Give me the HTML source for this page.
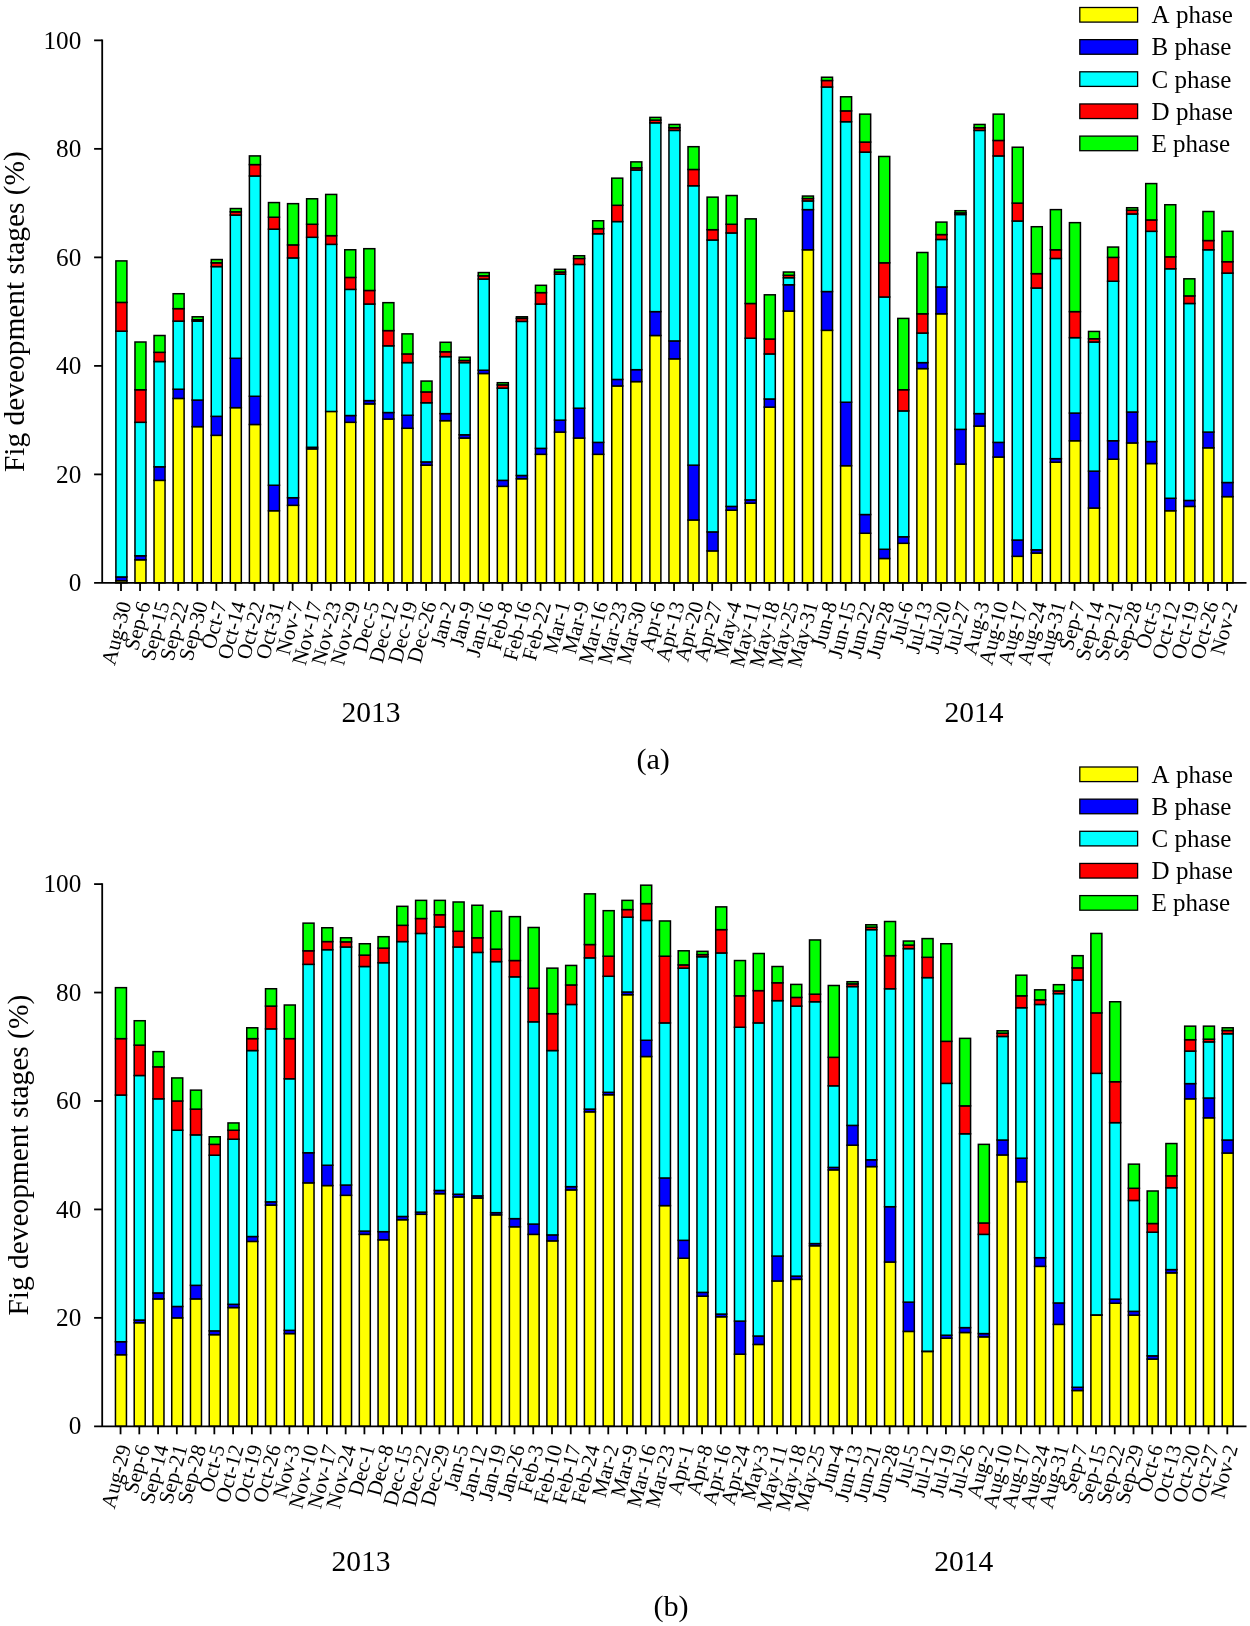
<!DOCTYPE html>
<html><head><meta charset="utf-8"><title>Fig development stages</title>
<style>
html,body{margin:0;padding:0;background:#fff}
svg{display:block;will-change:transform;transform:translateZ(0)}
text{font-family:"Liberation Serif",serif;fill:#000;font-kerning:none}
</style></head><body>
<svg width="1250" height="1626" viewBox="0 0 1250 1626">
<rect width="1250" height="1626" fill="#fff"/>
<g stroke="#000" stroke-width="1.5">
<rect x="115.90" y="580.73" width="11.0" height="2.17" fill="#ffff00"/>
<rect x="115.90" y="576.93" width="11.0" height="3.80" fill="#0000ff"/>
<rect x="115.90" y="331.16" width="11.0" height="245.78" fill="#00ffff"/>
<rect x="115.90" y="302.40" width="11.0" height="28.76" fill="#ff0000"/>
<rect x="115.90" y="260.90" width="11.0" height="41.51" fill="#00ff00"/>
<rect x="134.97" y="559.79" width="11.0" height="23.11" fill="#ffff00"/>
<rect x="134.97" y="555.77" width="11.0" height="4.01" fill="#0000ff"/>
<rect x="134.97" y="422.31" width="11.0" height="133.47" fill="#00ffff"/>
<rect x="134.97" y="389.75" width="11.0" height="32.55" fill="#ff0000"/>
<rect x="134.97" y="342.01" width="11.0" height="47.74" fill="#00ff00"/>
<rect x="154.04" y="480.36" width="11.0" height="102.54" fill="#ffff00"/>
<rect x="154.04" y="466.79" width="11.0" height="13.56" fill="#0000ff"/>
<rect x="154.04" y="361.54" width="11.0" height="105.25" fill="#00ffff"/>
<rect x="154.04" y="352.32" width="11.0" height="9.22" fill="#ff0000"/>
<rect x="154.04" y="335.50" width="11.0" height="16.82" fill="#00ff00"/>
<rect x="173.11" y="398.43" width="11.0" height="184.47" fill="#ffff00"/>
<rect x="173.11" y="389.21" width="11.0" height="9.22" fill="#0000ff"/>
<rect x="173.11" y="321.12" width="11.0" height="68.09" fill="#00ffff"/>
<rect x="173.11" y="308.64" width="11.0" height="12.48" fill="#ff0000"/>
<rect x="173.11" y="293.72" width="11.0" height="14.92" fill="#00ff00"/>
<rect x="192.18" y="426.65" width="11.0" height="156.25" fill="#ffff00"/>
<rect x="192.18" y="400.06" width="11.0" height="26.58" fill="#0000ff"/>
<rect x="192.18" y="321.12" width="11.0" height="78.94" fill="#00ffff"/>
<rect x="192.18" y="319.76" width="11.0" height="1.36" fill="#ff0000"/>
<rect x="192.18" y="316.78" width="11.0" height="2.98" fill="#00ff00"/>
<rect x="211.25" y="435.33" width="11.0" height="147.57" fill="#ffff00"/>
<rect x="211.25" y="416.34" width="11.0" height="18.99" fill="#0000ff"/>
<rect x="211.25" y="266.59" width="11.0" height="149.74" fill="#00ffff"/>
<rect x="211.25" y="262.80" width="11.0" height="3.80" fill="#ff0000"/>
<rect x="211.25" y="259.54" width="11.0" height="3.26" fill="#00ff00"/>
<rect x="230.32" y="407.66" width="11.0" height="175.24" fill="#ffff00"/>
<rect x="230.32" y="358.28" width="11.0" height="49.37" fill="#0000ff"/>
<rect x="230.32" y="215.05" width="11.0" height="143.23" fill="#00ffff"/>
<rect x="230.32" y="211.80" width="11.0" height="3.26" fill="#ff0000"/>
<rect x="230.32" y="208.54" width="11.0" height="3.26" fill="#00ff00"/>
<rect x="249.39" y="424.48" width="11.0" height="158.42" fill="#ffff00"/>
<rect x="249.39" y="396.26" width="11.0" height="28.21" fill="#0000ff"/>
<rect x="249.39" y="175.99" width="11.0" height="220.28" fill="#00ffff"/>
<rect x="249.39" y="164.59" width="11.0" height="11.39" fill="#ff0000"/>
<rect x="249.39" y="155.91" width="11.0" height="8.68" fill="#00ff00"/>
<rect x="268.47" y="510.74" width="11.0" height="72.16" fill="#ffff00"/>
<rect x="268.47" y="485.24" width="11.0" height="25.50" fill="#0000ff"/>
<rect x="268.47" y="229.16" width="11.0" height="256.08" fill="#00ffff"/>
<rect x="268.47" y="217.22" width="11.0" height="11.94" fill="#ff0000"/>
<rect x="268.47" y="202.57" width="11.0" height="14.65" fill="#00ff00"/>
<rect x="287.54" y="505.32" width="11.0" height="77.58" fill="#ffff00"/>
<rect x="287.54" y="497.72" width="11.0" height="7.60" fill="#0000ff"/>
<rect x="287.54" y="257.91" width="11.0" height="239.81" fill="#00ffff"/>
<rect x="287.54" y="244.89" width="11.0" height="13.02" fill="#ff0000"/>
<rect x="287.54" y="203.66" width="11.0" height="41.23" fill="#00ff00"/>
<rect x="306.61" y="448.89" width="11.0" height="134.01" fill="#ffff00"/>
<rect x="306.61" y="447.26" width="11.0" height="1.63" fill="#0000ff"/>
<rect x="306.61" y="237.30" width="11.0" height="209.97" fill="#00ffff"/>
<rect x="306.61" y="224.27" width="11.0" height="13.02" fill="#ff0000"/>
<rect x="306.61" y="198.77" width="11.0" height="25.50" fill="#00ff00"/>
<rect x="325.68" y="411.45" width="11.0" height="171.45" fill="#ffff00"/>
<rect x="325.68" y="244.35" width="11.0" height="167.11" fill="#00ffff"/>
<rect x="325.68" y="235.67" width="11.0" height="8.68" fill="#ff0000"/>
<rect x="325.68" y="194.43" width="11.0" height="41.23" fill="#00ff00"/>
<rect x="344.75" y="422.31" width="11.0" height="160.59" fill="#ffff00"/>
<rect x="344.75" y="415.52" width="11.0" height="6.78" fill="#0000ff"/>
<rect x="344.75" y="289.38" width="11.0" height="126.14" fill="#00ffff"/>
<rect x="344.75" y="277.44" width="11.0" height="11.94" fill="#ff0000"/>
<rect x="344.75" y="249.77" width="11.0" height="27.67" fill="#00ff00"/>
<rect x="363.82" y="403.86" width="11.0" height="179.04" fill="#ffff00"/>
<rect x="363.82" y="400.60" width="11.0" height="3.26" fill="#0000ff"/>
<rect x="363.82" y="304.03" width="11.0" height="96.57" fill="#00ffff"/>
<rect x="363.82" y="290.47" width="11.0" height="13.56" fill="#ff0000"/>
<rect x="363.82" y="248.69" width="11.0" height="41.78" fill="#00ff00"/>
<rect x="382.89" y="419.05" width="11.0" height="163.85" fill="#ffff00"/>
<rect x="382.89" y="412.54" width="11.0" height="6.51" fill="#0000ff"/>
<rect x="382.89" y="345.81" width="11.0" height="66.73" fill="#00ffff"/>
<rect x="382.89" y="330.61" width="11.0" height="15.19" fill="#ff0000"/>
<rect x="382.89" y="302.67" width="11.0" height="27.94" fill="#00ff00"/>
<rect x="401.96" y="428.27" width="11.0" height="154.63" fill="#ffff00"/>
<rect x="401.96" y="415.25" width="11.0" height="13.02" fill="#0000ff"/>
<rect x="401.96" y="362.62" width="11.0" height="52.63" fill="#00ffff"/>
<rect x="401.96" y="353.94" width="11.0" height="8.68" fill="#ff0000"/>
<rect x="401.96" y="333.87" width="11.0" height="20.07" fill="#00ff00"/>
<rect x="421.03" y="465.17" width="11.0" height="117.73" fill="#ffff00"/>
<rect x="421.03" y="461.91" width="11.0" height="3.26" fill="#0000ff"/>
<rect x="421.03" y="402.77" width="11.0" height="59.14" fill="#00ffff"/>
<rect x="421.03" y="391.92" width="11.0" height="10.85" fill="#ff0000"/>
<rect x="421.03" y="381.07" width="11.0" height="10.85" fill="#00ff00"/>
<rect x="440.10" y="420.68" width="11.0" height="162.22" fill="#ffff00"/>
<rect x="440.10" y="413.62" width="11.0" height="7.05" fill="#0000ff"/>
<rect x="440.10" y="356.66" width="11.0" height="56.97" fill="#00ffff"/>
<rect x="440.10" y="351.77" width="11.0" height="4.88" fill="#ff0000"/>
<rect x="440.10" y="342.28" width="11.0" height="9.49" fill="#00ff00"/>
<rect x="459.17" y="438.04" width="11.0" height="144.86" fill="#ffff00"/>
<rect x="459.17" y="434.78" width="11.0" height="3.26" fill="#0000ff"/>
<rect x="459.17" y="362.62" width="11.0" height="72.16" fill="#00ffff"/>
<rect x="459.17" y="360.45" width="11.0" height="2.17" fill="#ff0000"/>
<rect x="459.17" y="357.20" width="11.0" height="3.26" fill="#00ff00"/>
<rect x="478.24" y="373.48" width="11.0" height="209.42" fill="#ffff00"/>
<rect x="478.24" y="370.22" width="11.0" height="3.26" fill="#0000ff"/>
<rect x="478.24" y="279.07" width="11.0" height="91.15" fill="#00ffff"/>
<rect x="478.24" y="275.82" width="11.0" height="3.26" fill="#ff0000"/>
<rect x="478.24" y="272.56" width="11.0" height="3.26" fill="#00ff00"/>
<rect x="497.31" y="486.33" width="11.0" height="96.57" fill="#ffff00"/>
<rect x="497.31" y="480.36" width="11.0" height="5.97" fill="#0000ff"/>
<rect x="497.31" y="388.12" width="11.0" height="92.23" fill="#00ffff"/>
<rect x="497.31" y="384.87" width="11.0" height="3.26" fill="#ff0000"/>
<rect x="497.31" y="382.70" width="11.0" height="2.17" fill="#00ff00"/>
<rect x="516.38" y="478.73" width="11.0" height="104.17" fill="#ffff00"/>
<rect x="516.38" y="475.48" width="11.0" height="3.26" fill="#0000ff"/>
<rect x="516.38" y="321.39" width="11.0" height="154.08" fill="#00ffff"/>
<rect x="516.38" y="318.41" width="11.0" height="2.98" fill="#ff0000"/>
<rect x="516.38" y="316.78" width="11.0" height="1.63" fill="#00ff00"/>
<rect x="535.46" y="454.32" width="11.0" height="128.58" fill="#ffff00"/>
<rect x="535.46" y="448.35" width="11.0" height="5.97" fill="#0000ff"/>
<rect x="535.46" y="304.03" width="11.0" height="144.32" fill="#00ffff"/>
<rect x="535.46" y="292.64" width="11.0" height="11.39" fill="#ff0000"/>
<rect x="535.46" y="285.31" width="11.0" height="7.32" fill="#00ff00"/>
<rect x="554.53" y="432.07" width="11.0" height="150.83" fill="#ffff00"/>
<rect x="554.53" y="420.13" width="11.0" height="11.94" fill="#0000ff"/>
<rect x="554.53" y="274.19" width="11.0" height="145.95" fill="#00ffff"/>
<rect x="554.53" y="272.02" width="11.0" height="2.17" fill="#ff0000"/>
<rect x="554.53" y="269.31" width="11.0" height="2.71" fill="#00ff00"/>
<rect x="573.60" y="438.04" width="11.0" height="144.86" fill="#ffff00"/>
<rect x="573.60" y="408.20" width="11.0" height="29.84" fill="#0000ff"/>
<rect x="573.60" y="264.42" width="11.0" height="143.78" fill="#00ffff"/>
<rect x="573.60" y="258.46" width="11.0" height="5.97" fill="#ff0000"/>
<rect x="573.60" y="255.74" width="11.0" height="2.71" fill="#00ff00"/>
<rect x="592.67" y="454.32" width="11.0" height="128.58" fill="#ffff00"/>
<rect x="592.67" y="442.38" width="11.0" height="11.94" fill="#0000ff"/>
<rect x="592.67" y="233.77" width="11.0" height="208.61" fill="#00ffff"/>
<rect x="592.67" y="228.61" width="11.0" height="5.15" fill="#ff0000"/>
<rect x="592.67" y="220.75" width="11.0" height="7.87" fill="#00ff00"/>
<rect x="611.74" y="385.95" width="11.0" height="196.95" fill="#ffff00"/>
<rect x="611.74" y="379.44" width="11.0" height="6.51" fill="#0000ff"/>
<rect x="611.74" y="221.56" width="11.0" height="157.88" fill="#00ffff"/>
<rect x="611.74" y="205.29" width="11.0" height="16.28" fill="#ff0000"/>
<rect x="611.74" y="178.16" width="11.0" height="27.13" fill="#00ff00"/>
<rect x="630.81" y="381.61" width="11.0" height="201.29" fill="#ffff00"/>
<rect x="630.81" y="369.68" width="11.0" height="11.94" fill="#0000ff"/>
<rect x="630.81" y="170.02" width="11.0" height="199.66" fill="#00ffff"/>
<rect x="630.81" y="167.85" width="11.0" height="2.17" fill="#ff0000"/>
<rect x="630.81" y="161.88" width="11.0" height="5.97" fill="#00ff00"/>
<rect x="649.88" y="335.50" width="11.0" height="247.40" fill="#ffff00"/>
<rect x="649.88" y="311.62" width="11.0" height="23.87" fill="#0000ff"/>
<rect x="649.88" y="122.82" width="11.0" height="188.81" fill="#00ffff"/>
<rect x="649.88" y="120.10" width="11.0" height="2.71" fill="#ff0000"/>
<rect x="649.88" y="117.39" width="11.0" height="2.71" fill="#00ff00"/>
<rect x="668.95" y="358.83" width="11.0" height="224.07" fill="#ffff00"/>
<rect x="668.95" y="340.92" width="11.0" height="17.90" fill="#0000ff"/>
<rect x="668.95" y="130.41" width="11.0" height="210.51" fill="#00ffff"/>
<rect x="668.95" y="127.70" width="11.0" height="2.71" fill="#ff0000"/>
<rect x="668.95" y="124.45" width="11.0" height="3.26" fill="#00ff00"/>
<rect x="688.02" y="519.96" width="11.0" height="62.94" fill="#ffff00"/>
<rect x="688.02" y="465.17" width="11.0" height="54.80" fill="#0000ff"/>
<rect x="688.02" y="185.75" width="11.0" height="279.41" fill="#00ffff"/>
<rect x="688.02" y="169.48" width="11.0" height="16.28" fill="#ff0000"/>
<rect x="688.02" y="146.69" width="11.0" height="22.79" fill="#00ff00"/>
<rect x="707.09" y="550.89" width="11.0" height="32.01" fill="#ffff00"/>
<rect x="707.09" y="531.90" width="11.0" height="18.99" fill="#0000ff"/>
<rect x="707.09" y="240.01" width="11.0" height="291.89" fill="#00ffff"/>
<rect x="707.09" y="229.70" width="11.0" height="10.31" fill="#ff0000"/>
<rect x="707.09" y="197.15" width="11.0" height="32.55" fill="#00ff00"/>
<rect x="726.16" y="510.20" width="11.0" height="72.70" fill="#ffff00"/>
<rect x="726.16" y="506.40" width="11.0" height="3.80" fill="#0000ff"/>
<rect x="726.16" y="232.96" width="11.0" height="273.45" fill="#00ffff"/>
<rect x="726.16" y="224.27" width="11.0" height="8.68" fill="#ff0000"/>
<rect x="726.16" y="195.52" width="11.0" height="28.76" fill="#00ff00"/>
<rect x="745.23" y="503.15" width="11.0" height="79.75" fill="#ffff00"/>
<rect x="745.23" y="499.89" width="11.0" height="3.26" fill="#0000ff"/>
<rect x="745.23" y="338.21" width="11.0" height="161.68" fill="#00ffff"/>
<rect x="745.23" y="303.49" width="11.0" height="34.72" fill="#ff0000"/>
<rect x="745.23" y="218.85" width="11.0" height="84.64" fill="#00ff00"/>
<rect x="764.30" y="407.11" width="11.0" height="175.79" fill="#ffff00"/>
<rect x="764.30" y="398.98" width="11.0" height="8.14" fill="#0000ff"/>
<rect x="764.30" y="353.94" width="11.0" height="45.03" fill="#00ffff"/>
<rect x="764.30" y="339.02" width="11.0" height="14.92" fill="#ff0000"/>
<rect x="764.30" y="294.81" width="11.0" height="44.22" fill="#00ff00"/>
<rect x="783.37" y="311.08" width="11.0" height="271.82" fill="#ffff00"/>
<rect x="783.37" y="284.77" width="11.0" height="26.31" fill="#0000ff"/>
<rect x="783.37" y="277.72" width="11.0" height="7.05" fill="#00ffff"/>
<rect x="783.37" y="275.27" width="11.0" height="2.44" fill="#ff0000"/>
<rect x="783.37" y="272.02" width="11.0" height="3.26" fill="#00ff00"/>
<rect x="802.44" y="249.77" width="11.0" height="333.13" fill="#ffff00"/>
<rect x="802.44" y="209.63" width="11.0" height="40.15" fill="#0000ff"/>
<rect x="802.44" y="200.94" width="11.0" height="8.68" fill="#00ffff"/>
<rect x="802.44" y="198.50" width="11.0" height="2.44" fill="#ff0000"/>
<rect x="802.44" y="196.06" width="11.0" height="2.44" fill="#00ff00"/>
<rect x="821.52" y="330.34" width="11.0" height="252.56" fill="#ffff00"/>
<rect x="821.52" y="291.55" width="11.0" height="38.79" fill="#0000ff"/>
<rect x="821.52" y="87.01" width="11.0" height="204.54" fill="#00ffff"/>
<rect x="821.52" y="80.50" width="11.0" height="6.51" fill="#ff0000"/>
<rect x="821.52" y="77.24" width="11.0" height="3.26" fill="#00ff00"/>
<rect x="840.59" y="465.71" width="11.0" height="117.19" fill="#ffff00"/>
<rect x="840.59" y="402.23" width="11.0" height="63.48" fill="#0000ff"/>
<rect x="840.59" y="121.73" width="11.0" height="280.50" fill="#00ffff"/>
<rect x="840.59" y="110.88" width="11.0" height="10.85" fill="#ff0000"/>
<rect x="840.59" y="96.78" width="11.0" height="14.11" fill="#00ff00"/>
<rect x="859.66" y="533.26" width="11.0" height="49.64" fill="#ffff00"/>
<rect x="859.66" y="514.54" width="11.0" height="18.72" fill="#0000ff"/>
<rect x="859.66" y="152.12" width="11.0" height="362.42" fill="#00ffff"/>
<rect x="859.66" y="142.08" width="11.0" height="10.04" fill="#ff0000"/>
<rect x="859.66" y="114.14" width="11.0" height="27.94" fill="#00ff00"/>
<rect x="878.73" y="558.49" width="11.0" height="24.41" fill="#ffff00"/>
<rect x="878.73" y="549.26" width="11.0" height="9.22" fill="#0000ff"/>
<rect x="878.73" y="296.98" width="11.0" height="252.29" fill="#00ffff"/>
<rect x="878.73" y="262.80" width="11.0" height="34.18" fill="#ff0000"/>
<rect x="878.73" y="156.46" width="11.0" height="106.34" fill="#00ff00"/>
<rect x="897.80" y="543.29" width="11.0" height="39.61" fill="#ffff00"/>
<rect x="897.80" y="536.78" width="11.0" height="6.51" fill="#0000ff"/>
<rect x="897.80" y="410.91" width="11.0" height="125.87" fill="#00ffff"/>
<rect x="897.80" y="389.75" width="11.0" height="21.16" fill="#ff0000"/>
<rect x="897.80" y="318.41" width="11.0" height="71.35" fill="#00ff00"/>
<rect x="916.87" y="368.59" width="11.0" height="214.31" fill="#ffff00"/>
<rect x="916.87" y="362.62" width="11.0" height="5.97" fill="#0000ff"/>
<rect x="916.87" y="333.06" width="11.0" height="29.57" fill="#00ffff"/>
<rect x="916.87" y="313.80" width="11.0" height="19.26" fill="#ff0000"/>
<rect x="916.87" y="252.49" width="11.0" height="61.31" fill="#00ff00"/>
<rect x="935.94" y="313.80" width="11.0" height="269.10" fill="#ffff00"/>
<rect x="935.94" y="286.94" width="11.0" height="26.86" fill="#0000ff"/>
<rect x="935.94" y="239.47" width="11.0" height="47.47" fill="#00ffff"/>
<rect x="935.94" y="234.58" width="11.0" height="4.88" fill="#ff0000"/>
<rect x="935.94" y="222.10" width="11.0" height="12.48" fill="#00ff00"/>
<rect x="955.01" y="464.08" width="11.0" height="118.82" fill="#ffff00"/>
<rect x="955.01" y="429.36" width="11.0" height="34.72" fill="#0000ff"/>
<rect x="955.01" y="214.51" width="11.0" height="214.85" fill="#00ffff"/>
<rect x="955.01" y="212.88" width="11.0" height="1.63" fill="#ff0000"/>
<rect x="955.01" y="210.71" width="11.0" height="2.17" fill="#00ff00"/>
<rect x="974.08" y="426.10" width="11.0" height="156.80" fill="#ffff00"/>
<rect x="974.08" y="413.62" width="11.0" height="12.48" fill="#0000ff"/>
<rect x="974.08" y="130.41" width="11.0" height="283.21" fill="#00ffff"/>
<rect x="974.08" y="127.70" width="11.0" height="2.71" fill="#ff0000"/>
<rect x="974.08" y="124.45" width="11.0" height="3.26" fill="#00ff00"/>
<rect x="993.15" y="457.03" width="11.0" height="125.87" fill="#ffff00"/>
<rect x="993.15" y="442.38" width="11.0" height="14.65" fill="#0000ff"/>
<rect x="993.15" y="155.91" width="11.0" height="286.47" fill="#00ffff"/>
<rect x="993.15" y="140.45" width="11.0" height="15.46" fill="#ff0000"/>
<rect x="993.15" y="114.14" width="11.0" height="26.31" fill="#00ff00"/>
<rect x="1012.22" y="556.32" width="11.0" height="26.58" fill="#ffff00"/>
<rect x="1012.22" y="540.04" width="11.0" height="16.28" fill="#0000ff"/>
<rect x="1012.22" y="221.02" width="11.0" height="319.02" fill="#00ffff"/>
<rect x="1012.22" y="203.12" width="11.0" height="17.90" fill="#ff0000"/>
<rect x="1012.22" y="147.23" width="11.0" height="55.88" fill="#00ff00"/>
<rect x="1031.29" y="553.06" width="11.0" height="29.84" fill="#ffff00"/>
<rect x="1031.29" y="549.80" width="11.0" height="3.26" fill="#0000ff"/>
<rect x="1031.29" y="288.02" width="11.0" height="261.78" fill="#00ffff"/>
<rect x="1031.29" y="273.65" width="11.0" height="14.38" fill="#ff0000"/>
<rect x="1031.29" y="226.72" width="11.0" height="46.93" fill="#00ff00"/>
<rect x="1050.36" y="462.18" width="11.0" height="120.72" fill="#ffff00"/>
<rect x="1050.36" y="458.66" width="11.0" height="3.53" fill="#0000ff"/>
<rect x="1050.36" y="258.46" width="11.0" height="200.20" fill="#00ffff"/>
<rect x="1050.36" y="249.77" width="11.0" height="8.68" fill="#ff0000"/>
<rect x="1050.36" y="209.63" width="11.0" height="40.15" fill="#00ff00"/>
<rect x="1069.43" y="440.75" width="11.0" height="142.15" fill="#ffff00"/>
<rect x="1069.43" y="413.08" width="11.0" height="27.67" fill="#0000ff"/>
<rect x="1069.43" y="337.67" width="11.0" height="75.41" fill="#00ffff"/>
<rect x="1069.43" y="311.62" width="11.0" height="26.04" fill="#ff0000"/>
<rect x="1069.43" y="222.65" width="11.0" height="88.98" fill="#00ff00"/>
<rect x="1088.51" y="508.03" width="11.0" height="74.87" fill="#ffff00"/>
<rect x="1088.51" y="471.13" width="11.0" height="36.89" fill="#0000ff"/>
<rect x="1088.51" y="342.01" width="11.0" height="129.13" fill="#00ffff"/>
<rect x="1088.51" y="338.75" width="11.0" height="3.26" fill="#ff0000"/>
<rect x="1088.51" y="331.43" width="11.0" height="7.32" fill="#00ff00"/>
<rect x="1107.58" y="459.20" width="11.0" height="123.70" fill="#ffff00"/>
<rect x="1107.58" y="440.75" width="11.0" height="18.45" fill="#0000ff"/>
<rect x="1107.58" y="281.24" width="11.0" height="159.51" fill="#00ffff"/>
<rect x="1107.58" y="257.37" width="11.0" height="23.87" fill="#ff0000"/>
<rect x="1107.58" y="247.06" width="11.0" height="10.31" fill="#00ff00"/>
<rect x="1126.65" y="442.92" width="11.0" height="139.98" fill="#ffff00"/>
<rect x="1126.65" y="412.00" width="11.0" height="30.93" fill="#0000ff"/>
<rect x="1126.65" y="213.97" width="11.0" height="198.03" fill="#00ffff"/>
<rect x="1126.65" y="210.17" width="11.0" height="3.80" fill="#ff0000"/>
<rect x="1126.65" y="207.73" width="11.0" height="2.44" fill="#00ff00"/>
<rect x="1145.72" y="463.54" width="11.0" height="119.36" fill="#ffff00"/>
<rect x="1145.72" y="441.57" width="11.0" height="21.97" fill="#0000ff"/>
<rect x="1145.72" y="231.33" width="11.0" height="210.24" fill="#00ffff"/>
<rect x="1145.72" y="219.93" width="11.0" height="11.39" fill="#ff0000"/>
<rect x="1145.72" y="183.58" width="11.0" height="36.35" fill="#00ff00"/>
<rect x="1164.79" y="510.74" width="11.0" height="72.16" fill="#ffff00"/>
<rect x="1164.79" y="498.26" width="11.0" height="12.48" fill="#0000ff"/>
<rect x="1164.79" y="268.76" width="11.0" height="229.50" fill="#00ffff"/>
<rect x="1164.79" y="256.83" width="11.0" height="11.94" fill="#ff0000"/>
<rect x="1164.79" y="204.74" width="11.0" height="52.08" fill="#00ff00"/>
<rect x="1183.86" y="506.40" width="11.0" height="76.50" fill="#ffff00"/>
<rect x="1183.86" y="500.43" width="11.0" height="5.97" fill="#0000ff"/>
<rect x="1183.86" y="303.49" width="11.0" height="196.95" fill="#00ffff"/>
<rect x="1183.86" y="295.89" width="11.0" height="7.60" fill="#ff0000"/>
<rect x="1183.86" y="278.80" width="11.0" height="17.09" fill="#00ff00"/>
<rect x="1202.93" y="447.81" width="11.0" height="135.09" fill="#ffff00"/>
<rect x="1202.93" y="432.07" width="11.0" height="15.73" fill="#0000ff"/>
<rect x="1202.93" y="249.77" width="11.0" height="182.30" fill="#00ffff"/>
<rect x="1202.93" y="240.55" width="11.0" height="9.22" fill="#ff0000"/>
<rect x="1202.93" y="211.52" width="11.0" height="29.03" fill="#00ff00"/>
<rect x="1222.00" y="496.63" width="11.0" height="86.27" fill="#ffff00"/>
<rect x="1222.00" y="482.53" width="11.0" height="14.11" fill="#0000ff"/>
<rect x="1222.00" y="273.10" width="11.0" height="209.42" fill="#00ffff"/>
<rect x="1222.00" y="261.71" width="11.0" height="11.39" fill="#ff0000"/>
<rect x="1222.00" y="231.33" width="11.0" height="30.38" fill="#00ff00"/>
</g>
<g stroke="#000" stroke-width="1.8" fill="none">
<path d="M102.2 39.4V582.9"/>
<path d="M94.10000000000001 582.9H1246.5"/>
<path d="M94.10000000000001 474.39H102.2"/>
<path d="M94.10000000000001 365.88H102.2"/>
<path d="M94.10000000000001 257.37H102.2"/>
<path d="M94.10000000000001 148.86H102.2"/>
<path d="M94.10000000000001 40.35H102.2"/>
<path d="M121.00 582.9v8.0"/>
<path d="M140.07 582.9v8.0"/>
<path d="M159.14 582.9v8.0"/>
<path d="M178.21 582.9v8.0"/>
<path d="M197.28 582.9v8.0"/>
<path d="M216.35 582.9v8.0"/>
<path d="M235.42 582.9v8.0"/>
<path d="M254.49 582.9v8.0"/>
<path d="M273.57 582.9v8.0"/>
<path d="M292.64 582.9v8.0"/>
<path d="M311.71 582.9v8.0"/>
<path d="M330.78 582.9v8.0"/>
<path d="M349.85 582.9v8.0"/>
<path d="M368.92 582.9v8.0"/>
<path d="M387.99 582.9v8.0"/>
<path d="M407.06 582.9v8.0"/>
<path d="M426.13 582.9v8.0"/>
<path d="M445.20 582.9v8.0"/>
<path d="M464.27 582.9v8.0"/>
<path d="M483.34 582.9v8.0"/>
<path d="M502.41 582.9v8.0"/>
<path d="M521.48 582.9v8.0"/>
<path d="M540.56 582.9v8.0"/>
<path d="M559.63 582.9v8.0"/>
<path d="M578.70 582.9v8.0"/>
<path d="M597.77 582.9v8.0"/>
<path d="M616.84 582.9v8.0"/>
<path d="M635.91 582.9v8.0"/>
<path d="M654.98 582.9v8.0"/>
<path d="M674.05 582.9v8.0"/>
<path d="M693.12 582.9v8.0"/>
<path d="M712.19 582.9v8.0"/>
<path d="M731.26 582.9v8.0"/>
<path d="M750.33 582.9v8.0"/>
<path d="M769.40 582.9v8.0"/>
<path d="M788.47 582.9v8.0"/>
<path d="M807.54 582.9v8.0"/>
<path d="M826.62 582.9v8.0"/>
<path d="M845.69 582.9v8.0"/>
<path d="M864.76 582.9v8.0"/>
<path d="M883.83 582.9v8.0"/>
<path d="M902.90 582.9v8.0"/>
<path d="M921.97 582.9v8.0"/>
<path d="M941.04 582.9v8.0"/>
<path d="M960.11 582.9v8.0"/>
<path d="M979.18 582.9v8.0"/>
<path d="M998.25 582.9v8.0"/>
<path d="M1017.32 582.9v8.0"/>
<path d="M1036.39 582.9v8.0"/>
<path d="M1055.46 582.9v8.0"/>
<path d="M1074.53 582.9v8.0"/>
<path d="M1093.61 582.9v8.0"/>
<path d="M1112.68 582.9v8.0"/>
<path d="M1131.75 582.9v8.0"/>
<path d="M1150.82 582.9v8.0"/>
<path d="M1169.89 582.9v8.0"/>
<path d="M1188.96 582.9v8.0"/>
<path d="M1208.03 582.9v8.0"/>
<path d="M1227.10 582.9v8.0"/>
</g>
<g font-size="25.2" text-anchor="end">
<text x="81.3" y="591.05">0</text>
<text x="81.3" y="482.54">20</text>
<text x="81.3" y="374.03">40</text>
<text x="81.3" y="265.52">60</text>
<text x="81.3" y="157.01">80</text>
<text x="81.3" y="48.50">100</text>
</g>
<text font-size="29.4" text-anchor="middle" transform="translate(23.5 311.6) rotate(-90)">Fig deveopment stages (%)</text>
<g font-size="21.2" text-anchor="end">
<text transform="translate(131.60 603.70) rotate(-75)">Aug-30</text>
<text transform="translate(150.67 603.70) rotate(-75)">Sep-6</text>
<text transform="translate(169.74 603.70) rotate(-75)">Sep-15</text>
<text transform="translate(188.81 603.70) rotate(-75)">Sep-22</text>
<text transform="translate(207.88 603.70) rotate(-75)">Sep-30</text>
<text transform="translate(226.95 603.70) rotate(-75)">Oct-7</text>
<text transform="translate(246.02 603.70) rotate(-75)">Oct-14</text>
<text transform="translate(265.09 603.70) rotate(-75)">Oct-22</text>
<text transform="translate(284.17 603.70) rotate(-75)">Oct-31</text>
<text transform="translate(303.24 603.70) rotate(-75)">Nov-7</text>
<text transform="translate(322.31 603.70) rotate(-75)">Nov-17</text>
<text transform="translate(341.38 603.70) rotate(-75)">Nov-23</text>
<text transform="translate(360.45 603.70) rotate(-75)">Nov-29</text>
<text transform="translate(379.52 603.70) rotate(-75)">Dec-5</text>
<text transform="translate(398.59 603.70) rotate(-75)">Dec-12</text>
<text transform="translate(417.66 603.70) rotate(-75)">Dec-19</text>
<text transform="translate(436.73 603.70) rotate(-75)">Dec-26</text>
<text transform="translate(455.80 603.70) rotate(-75)">Jan-2</text>
<text transform="translate(474.87 603.70) rotate(-75)">Jan-9</text>
<text transform="translate(493.94 603.70) rotate(-75)">Jan-16</text>
<text transform="translate(513.01 603.70) rotate(-75)">Feb-8</text>
<text transform="translate(532.08 603.70) rotate(-75)">Feb-16</text>
<text transform="translate(551.16 603.70) rotate(-75)">Feb-22</text>
<text transform="translate(570.23 603.70) rotate(-75)">Mar-1</text>
<text transform="translate(589.30 603.70) rotate(-75)">Mar-9</text>
<text transform="translate(608.37 603.70) rotate(-75)">Mar-16</text>
<text transform="translate(627.44 603.70) rotate(-75)">Mar-23</text>
<text transform="translate(646.51 603.70) rotate(-75)">Mar-30</text>
<text transform="translate(665.58 603.70) rotate(-75)">Apr-6</text>
<text transform="translate(684.65 603.70) rotate(-75)">Apr-13</text>
<text transform="translate(703.72 603.70) rotate(-75)">Apr-20</text>
<text transform="translate(722.79 603.70) rotate(-75)">Apr-27</text>
<text transform="translate(741.86 603.70) rotate(-75)">May-4</text>
<text transform="translate(760.93 603.70) rotate(-75)">May-11</text>
<text transform="translate(780.00 603.70) rotate(-75)">May-18</text>
<text transform="translate(799.07 603.70) rotate(-75)">May-25</text>
<text transform="translate(818.14 603.70) rotate(-75)">May-31</text>
<text transform="translate(837.22 603.70) rotate(-75)">Jun-8</text>
<text transform="translate(856.29 603.70) rotate(-75)">Jun-15</text>
<text transform="translate(875.36 603.70) rotate(-75)">Jun-22</text>
<text transform="translate(894.43 603.70) rotate(-75)">Jun-28</text>
<text transform="translate(913.50 603.70) rotate(-75)">Jul-6</text>
<text transform="translate(932.57 603.70) rotate(-75)">Jul-13</text>
<text transform="translate(951.64 603.70) rotate(-75)">Jul-20</text>
<text transform="translate(970.71 603.70) rotate(-75)">Jul-27</text>
<text transform="translate(989.78 603.70) rotate(-75)">Aug-3</text>
<text transform="translate(1008.85 603.70) rotate(-75)">Aug-10</text>
<text transform="translate(1027.92 603.70) rotate(-75)">Aug-17</text>
<text transform="translate(1046.99 603.70) rotate(-75)">Aug-24</text>
<text transform="translate(1066.06 603.70) rotate(-75)">Aug-31</text>
<text transform="translate(1085.13 603.70) rotate(-75)">Sep-7</text>
<text transform="translate(1104.21 603.70) rotate(-75)">Sep-14</text>
<text transform="translate(1123.28 603.70) rotate(-75)">Sep-21</text>
<text transform="translate(1142.35 603.70) rotate(-75)">Sep-28</text>
<text transform="translate(1161.42 603.70) rotate(-75)">Oct-5</text>
<text transform="translate(1180.49 603.70) rotate(-75)">Oct-12</text>
<text transform="translate(1199.56 603.70) rotate(-75)">Oct-19</text>
<text transform="translate(1218.63 603.70) rotate(-75)">Oct-26</text>
<text transform="translate(1237.70 603.70) rotate(-75)">Nov-2</text>
</g>
<g font-size="29.5">
<text x="341.6" y="722.2">2013</text><text x="944.6" y="722.2">2014</text>
<text x="636.4000000000001" y="768.6" font-size="30.2">(a)</text>
</g>
<g font-size="25">
<rect x="1079.8" y="7.50" width="57.8" height="14.6" fill="#ffff00" stroke="#000" stroke-width="1.3"/>
<text x="1151.6" y="23.30">A phase</text>
<rect x="1079.8" y="39.65" width="57.8" height="14.6" fill="#0000ff" stroke="#000" stroke-width="1.3"/>
<text x="1151.6" y="55.45">B phase</text>
<rect x="1079.8" y="71.80" width="57.8" height="14.6" fill="#00ffff" stroke="#000" stroke-width="1.3"/>
<text x="1151.6" y="87.60">C phase</text>
<rect x="1079.8" y="103.95" width="57.8" height="14.6" fill="#ff0000" stroke="#000" stroke-width="1.3"/>
<text x="1151.6" y="119.75">D phase</text>
<rect x="1079.8" y="136.10" width="57.8" height="14.6" fill="#00ff00" stroke="#000" stroke-width="1.3"/>
<text x="1151.6" y="151.90">E phase</text>
</g>
<g stroke="#000" stroke-width="1.5">
<rect x="115.45" y="1354.73" width="11.0" height="71.57" fill="#ffff00"/>
<rect x="115.45" y="1341.72" width="11.0" height="13.01" fill="#0000ff"/>
<rect x="115.45" y="1095.02" width="11.0" height="246.70" fill="#00ffff"/>
<rect x="115.45" y="1038.63" width="11.0" height="56.39" fill="#ff0000"/>
<rect x="115.45" y="987.66" width="11.0" height="50.97" fill="#00ff00"/>
<rect x="134.21" y="1322.74" width="11.0" height="103.56" fill="#ffff00"/>
<rect x="134.21" y="1320.03" width="11.0" height="2.71" fill="#0000ff"/>
<rect x="134.21" y="1075.50" width="11.0" height="244.53" fill="#00ffff"/>
<rect x="134.21" y="1045.13" width="11.0" height="30.36" fill="#ff0000"/>
<rect x="134.21" y="1020.73" width="11.0" height="24.40" fill="#00ff00"/>
<rect x="152.97" y="1298.88" width="11.0" height="127.42" fill="#ffff00"/>
<rect x="152.97" y="1292.92" width="11.0" height="5.96" fill="#0000ff"/>
<rect x="152.97" y="1098.81" width="11.0" height="194.11" fill="#00ffff"/>
<rect x="152.97" y="1066.82" width="11.0" height="31.99" fill="#ff0000"/>
<rect x="152.97" y="1051.64" width="11.0" height="15.18" fill="#00ff00"/>
<rect x="171.73" y="1317.86" width="11.0" height="108.44" fill="#ffff00"/>
<rect x="171.73" y="1306.47" width="11.0" height="11.39" fill="#0000ff"/>
<rect x="171.73" y="1130.26" width="11.0" height="176.21" fill="#00ffff"/>
<rect x="171.73" y="1100.98" width="11.0" height="29.28" fill="#ff0000"/>
<rect x="171.73" y="1077.94" width="11.0" height="23.04" fill="#00ff00"/>
<rect x="190.48" y="1298.88" width="11.0" height="127.42" fill="#ffff00"/>
<rect x="190.48" y="1285.33" width="11.0" height="13.56" fill="#0000ff"/>
<rect x="190.48" y="1134.87" width="11.0" height="150.46" fill="#00ffff"/>
<rect x="190.48" y="1109.11" width="11.0" height="25.75" fill="#ff0000"/>
<rect x="190.48" y="1090.14" width="11.0" height="18.98" fill="#00ff00"/>
<rect x="209.24" y="1334.67" width="11.0" height="91.63" fill="#ffff00"/>
<rect x="209.24" y="1330.87" width="11.0" height="3.80" fill="#0000ff"/>
<rect x="209.24" y="1155.20" width="11.0" height="175.67" fill="#00ffff"/>
<rect x="209.24" y="1144.36" width="11.0" height="10.84" fill="#ff0000"/>
<rect x="209.24" y="1136.77" width="11.0" height="7.59" fill="#00ff00"/>
<rect x="228.00" y="1307.56" width="11.0" height="118.74" fill="#ffff00"/>
<rect x="228.00" y="1304.31" width="11.0" height="3.25" fill="#0000ff"/>
<rect x="228.00" y="1139.21" width="11.0" height="165.10" fill="#00ffff"/>
<rect x="228.00" y="1130.26" width="11.0" height="8.95" fill="#ff0000"/>
<rect x="228.00" y="1122.94" width="11.0" height="7.32" fill="#00ff00"/>
<rect x="246.76" y="1241.41" width="11.0" height="184.89" fill="#ffff00"/>
<rect x="246.76" y="1236.53" width="11.0" height="4.88" fill="#0000ff"/>
<rect x="246.76" y="1050.56" width="11.0" height="185.97" fill="#00ffff"/>
<rect x="246.76" y="1038.63" width="11.0" height="11.93" fill="#ff0000"/>
<rect x="246.76" y="1027.78" width="11.0" height="10.84" fill="#00ff00"/>
<rect x="265.52" y="1205.08" width="11.0" height="221.22" fill="#ffff00"/>
<rect x="265.52" y="1201.83" width="11.0" height="3.25" fill="#0000ff"/>
<rect x="265.52" y="1028.87" width="11.0" height="172.96" fill="#00ffff"/>
<rect x="265.52" y="1006.10" width="11.0" height="22.77" fill="#ff0000"/>
<rect x="265.52" y="988.74" width="11.0" height="17.35" fill="#00ff00"/>
<rect x="284.28" y="1333.58" width="11.0" height="92.72" fill="#ffff00"/>
<rect x="284.28" y="1330.33" width="11.0" height="3.25" fill="#0000ff"/>
<rect x="284.28" y="1078.75" width="11.0" height="251.58" fill="#00ffff"/>
<rect x="284.28" y="1038.63" width="11.0" height="40.12" fill="#ff0000"/>
<rect x="284.28" y="1005.01" width="11.0" height="33.62" fill="#00ff00"/>
<rect x="303.03" y="1182.85" width="11.0" height="243.45" fill="#ffff00"/>
<rect x="303.03" y="1152.76" width="11.0" height="30.09" fill="#0000ff"/>
<rect x="303.03" y="964.35" width="11.0" height="188.41" fill="#00ffff"/>
<rect x="303.03" y="950.79" width="11.0" height="13.55" fill="#ff0000"/>
<rect x="303.03" y="923.14" width="11.0" height="27.65" fill="#00ff00"/>
<rect x="321.79" y="1185.56" width="11.0" height="240.74" fill="#ffff00"/>
<rect x="321.79" y="1165.23" width="11.0" height="20.33" fill="#0000ff"/>
<rect x="321.79" y="949.71" width="11.0" height="215.52" fill="#00ffff"/>
<rect x="321.79" y="941.57" width="11.0" height="8.13" fill="#ff0000"/>
<rect x="321.79" y="927.75" width="11.0" height="13.83" fill="#00ff00"/>
<rect x="340.55" y="1195.32" width="11.0" height="230.98" fill="#ffff00"/>
<rect x="340.55" y="1185.02" width="11.0" height="10.30" fill="#0000ff"/>
<rect x="340.55" y="947.00" width="11.0" height="238.03" fill="#00ffff"/>
<rect x="340.55" y="941.84" width="11.0" height="5.15" fill="#ff0000"/>
<rect x="340.55" y="937.78" width="11.0" height="4.07" fill="#00ff00"/>
<rect x="359.31" y="1234.36" width="11.0" height="191.94" fill="#ffff00"/>
<rect x="359.31" y="1231.11" width="11.0" height="3.25" fill="#0000ff"/>
<rect x="359.31" y="966.51" width="11.0" height="264.59" fill="#00ffff"/>
<rect x="359.31" y="955.13" width="11.0" height="11.39" fill="#ff0000"/>
<rect x="359.31" y="943.74" width="11.0" height="11.39" fill="#00ff00"/>
<rect x="378.07" y="1239.78" width="11.0" height="186.52" fill="#ffff00"/>
<rect x="378.07" y="1231.65" width="11.0" height="8.13" fill="#0000ff"/>
<rect x="378.07" y="962.72" width="11.0" height="268.93" fill="#00ffff"/>
<rect x="378.07" y="948.08" width="11.0" height="14.64" fill="#ff0000"/>
<rect x="378.07" y="936.69" width="11.0" height="11.39" fill="#00ff00"/>
<rect x="396.83" y="1219.72" width="11.0" height="206.58" fill="#ffff00"/>
<rect x="396.83" y="1216.47" width="11.0" height="3.25" fill="#0000ff"/>
<rect x="396.83" y="941.57" width="11.0" height="274.90" fill="#00ffff"/>
<rect x="396.83" y="925.31" width="11.0" height="16.27" fill="#ff0000"/>
<rect x="396.83" y="906.33" width="11.0" height="18.98" fill="#00ff00"/>
<rect x="415.59" y="1214.30" width="11.0" height="212.00" fill="#ffff00"/>
<rect x="415.59" y="1212.13" width="11.0" height="2.17" fill="#0000ff"/>
<rect x="415.59" y="933.44" width="11.0" height="278.69" fill="#00ffff"/>
<rect x="415.59" y="918.53" width="11.0" height="14.91" fill="#ff0000"/>
<rect x="415.59" y="900.37" width="11.0" height="18.16" fill="#00ff00"/>
<rect x="434.34" y="1193.70" width="11.0" height="232.60" fill="#ffff00"/>
<rect x="434.34" y="1190.44" width="11.0" height="3.25" fill="#0000ff"/>
<rect x="434.34" y="926.93" width="11.0" height="263.51" fill="#00ffff"/>
<rect x="434.34" y="914.73" width="11.0" height="12.20" fill="#ff0000"/>
<rect x="434.34" y="900.37" width="11.0" height="14.37" fill="#00ff00"/>
<rect x="453.10" y="1196.95" width="11.0" height="229.35" fill="#ffff00"/>
<rect x="453.10" y="1194.24" width="11.0" height="2.71" fill="#0000ff"/>
<rect x="453.10" y="947.00" width="11.0" height="247.24" fill="#00ffff"/>
<rect x="453.10" y="931.27" width="11.0" height="15.72" fill="#ff0000"/>
<rect x="453.10" y="901.99" width="11.0" height="29.28" fill="#00ff00"/>
<rect x="471.86" y="1198.03" width="11.0" height="228.27" fill="#ffff00"/>
<rect x="471.86" y="1195.87" width="11.0" height="2.17" fill="#0000ff"/>
<rect x="471.86" y="952.42" width="11.0" height="243.45" fill="#00ffff"/>
<rect x="471.86" y="937.78" width="11.0" height="14.64" fill="#ff0000"/>
<rect x="471.86" y="905.25" width="11.0" height="32.53" fill="#00ff00"/>
<rect x="490.62" y="1214.84" width="11.0" height="211.46" fill="#ffff00"/>
<rect x="490.62" y="1212.67" width="11.0" height="2.17" fill="#0000ff"/>
<rect x="490.62" y="961.63" width="11.0" height="251.04" fill="#00ffff"/>
<rect x="490.62" y="949.16" width="11.0" height="12.47" fill="#ff0000"/>
<rect x="490.62" y="911.21" width="11.0" height="37.95" fill="#00ff00"/>
<rect x="509.38" y="1226.77" width="11.0" height="199.53" fill="#ffff00"/>
<rect x="509.38" y="1218.64" width="11.0" height="8.13" fill="#0000ff"/>
<rect x="509.38" y="976.82" width="11.0" height="241.82" fill="#00ffff"/>
<rect x="509.38" y="960.55" width="11.0" height="16.27" fill="#ff0000"/>
<rect x="509.38" y="916.63" width="11.0" height="43.92" fill="#00ff00"/>
<rect x="528.14" y="1234.36" width="11.0" height="191.94" fill="#ffff00"/>
<rect x="528.14" y="1224.06" width="11.0" height="10.30" fill="#0000ff"/>
<rect x="528.14" y="1021.82" width="11.0" height="202.24" fill="#00ffff"/>
<rect x="528.14" y="988.20" width="11.0" height="33.62" fill="#ff0000"/>
<rect x="528.14" y="927.48" width="11.0" height="60.73" fill="#00ff00"/>
<rect x="546.89" y="1240.87" width="11.0" height="185.43" fill="#ffff00"/>
<rect x="546.89" y="1234.90" width="11.0" height="5.96" fill="#0000ff"/>
<rect x="546.89" y="1050.56" width="11.0" height="184.35" fill="#00ffff"/>
<rect x="546.89" y="1013.69" width="11.0" height="36.87" fill="#ff0000"/>
<rect x="546.89" y="968.14" width="11.0" height="45.54" fill="#00ff00"/>
<rect x="565.65" y="1189.90" width="11.0" height="236.40" fill="#ffff00"/>
<rect x="565.65" y="1186.65" width="11.0" height="3.25" fill="#0000ff"/>
<rect x="565.65" y="1004.47" width="11.0" height="182.18" fill="#00ffff"/>
<rect x="565.65" y="984.95" width="11.0" height="19.52" fill="#ff0000"/>
<rect x="565.65" y="965.43" width="11.0" height="19.52" fill="#00ff00"/>
<rect x="584.41" y="1111.82" width="11.0" height="314.48" fill="#ffff00"/>
<rect x="584.41" y="1109.11" width="11.0" height="2.71" fill="#0000ff"/>
<rect x="584.41" y="957.84" width="11.0" height="151.27" fill="#00ffff"/>
<rect x="584.41" y="944.56" width="11.0" height="13.28" fill="#ff0000"/>
<rect x="584.41" y="893.86" width="11.0" height="50.70" fill="#00ff00"/>
<rect x="603.17" y="1094.74" width="11.0" height="331.56" fill="#ffff00"/>
<rect x="603.17" y="1092.30" width="11.0" height="2.44" fill="#0000ff"/>
<rect x="603.17" y="976.27" width="11.0" height="116.03" fill="#00ffff"/>
<rect x="603.17" y="956.21" width="11.0" height="20.06" fill="#ff0000"/>
<rect x="603.17" y="910.67" width="11.0" height="45.54" fill="#00ff00"/>
<rect x="621.93" y="994.71" width="11.0" height="431.59" fill="#ffff00"/>
<rect x="621.93" y="992.00" width="11.0" height="2.71" fill="#0000ff"/>
<rect x="621.93" y="917.17" width="11.0" height="74.82" fill="#00ffff"/>
<rect x="621.93" y="909.58" width="11.0" height="7.59" fill="#ff0000"/>
<rect x="621.93" y="900.37" width="11.0" height="9.22" fill="#00ff00"/>
<rect x="640.69" y="1056.52" width="11.0" height="369.78" fill="#ffff00"/>
<rect x="640.69" y="1040.25" width="11.0" height="16.27" fill="#0000ff"/>
<rect x="640.69" y="920.43" width="11.0" height="119.83" fill="#00ffff"/>
<rect x="640.69" y="903.62" width="11.0" height="16.81" fill="#ff0000"/>
<rect x="640.69" y="885.18" width="11.0" height="18.43" fill="#00ff00"/>
<rect x="659.45" y="1205.62" width="11.0" height="220.68" fill="#ffff00"/>
<rect x="659.45" y="1177.97" width="11.0" height="27.65" fill="#0000ff"/>
<rect x="659.45" y="1022.90" width="11.0" height="155.07" fill="#00ffff"/>
<rect x="659.45" y="956.21" width="11.0" height="66.69" fill="#ff0000"/>
<rect x="659.45" y="920.97" width="11.0" height="35.24" fill="#00ff00"/>
<rect x="678.20" y="1258.22" width="11.0" height="168.08" fill="#ffff00"/>
<rect x="678.20" y="1240.33" width="11.0" height="17.89" fill="#0000ff"/>
<rect x="678.20" y="968.14" width="11.0" height="272.18" fill="#00ffff"/>
<rect x="678.20" y="964.89" width="11.0" height="3.25" fill="#ff0000"/>
<rect x="678.20" y="950.79" width="11.0" height="14.10" fill="#00ff00"/>
<rect x="696.96" y="1296.17" width="11.0" height="130.13" fill="#ffff00"/>
<rect x="696.96" y="1292.38" width="11.0" height="3.80" fill="#0000ff"/>
<rect x="696.96" y="956.75" width="11.0" height="335.62" fill="#00ffff"/>
<rect x="696.96" y="954.59" width="11.0" height="2.17" fill="#ff0000"/>
<rect x="696.96" y="951.33" width="11.0" height="3.25" fill="#00ff00"/>
<rect x="715.72" y="1316.78" width="11.0" height="109.52" fill="#ffff00"/>
<rect x="715.72" y="1314.06" width="11.0" height="2.71" fill="#0000ff"/>
<rect x="715.72" y="952.96" width="11.0" height="361.11" fill="#00ffff"/>
<rect x="715.72" y="929.64" width="11.0" height="23.31" fill="#ff0000"/>
<rect x="715.72" y="906.87" width="11.0" height="22.77" fill="#00ff00"/>
<rect x="734.48" y="1354.19" width="11.0" height="72.11" fill="#ffff00"/>
<rect x="734.48" y="1321.11" width="11.0" height="33.07" fill="#0000ff"/>
<rect x="734.48" y="1027.24" width="11.0" height="293.87" fill="#00ffff"/>
<rect x="734.48" y="995.79" width="11.0" height="31.45" fill="#ff0000"/>
<rect x="734.48" y="960.55" width="11.0" height="35.24" fill="#00ff00"/>
<rect x="753.24" y="1344.43" width="11.0" height="81.87" fill="#ffff00"/>
<rect x="753.24" y="1336.02" width="11.0" height="8.40" fill="#0000ff"/>
<rect x="753.24" y="1022.90" width="11.0" height="313.12" fill="#00ffff"/>
<rect x="753.24" y="990.64" width="11.0" height="32.26" fill="#ff0000"/>
<rect x="753.24" y="953.50" width="11.0" height="37.14" fill="#00ff00"/>
<rect x="772.00" y="1280.99" width="11.0" height="145.31" fill="#ffff00"/>
<rect x="772.00" y="1256.05" width="11.0" height="24.94" fill="#0000ff"/>
<rect x="772.00" y="1000.67" width="11.0" height="255.38" fill="#00ffff"/>
<rect x="772.00" y="982.78" width="11.0" height="17.89" fill="#ff0000"/>
<rect x="772.00" y="966.51" width="11.0" height="16.27" fill="#00ff00"/>
<rect x="790.76" y="1279.36" width="11.0" height="146.94" fill="#ffff00"/>
<rect x="790.76" y="1276.11" width="11.0" height="3.25" fill="#0000ff"/>
<rect x="790.76" y="1006.10" width="11.0" height="270.02" fill="#00ffff"/>
<rect x="790.76" y="997.42" width="11.0" height="8.68" fill="#ff0000"/>
<rect x="790.76" y="984.41" width="11.0" height="13.01" fill="#00ff00"/>
<rect x="809.51" y="1245.75" width="11.0" height="180.55" fill="#ffff00"/>
<rect x="809.51" y="1243.58" width="11.0" height="2.17" fill="#0000ff"/>
<rect x="809.51" y="1001.76" width="11.0" height="241.82" fill="#00ffff"/>
<rect x="809.51" y="994.17" width="11.0" height="7.59" fill="#ff0000"/>
<rect x="809.51" y="939.95" width="11.0" height="54.22" fill="#00ff00"/>
<rect x="828.27" y="1169.84" width="11.0" height="256.46" fill="#ffff00"/>
<rect x="828.27" y="1167.40" width="11.0" height="2.44" fill="#0000ff"/>
<rect x="828.27" y="1085.80" width="11.0" height="81.60" fill="#00ffff"/>
<rect x="828.27" y="1057.33" width="11.0" height="28.47" fill="#ff0000"/>
<rect x="828.27" y="985.49" width="11.0" height="71.84" fill="#00ff00"/>
<rect x="847.03" y="1145.17" width="11.0" height="281.13" fill="#ffff00"/>
<rect x="847.03" y="1125.38" width="11.0" height="19.79" fill="#0000ff"/>
<rect x="847.03" y="986.58" width="11.0" height="138.80" fill="#00ffff"/>
<rect x="847.03" y="983.86" width="11.0" height="2.71" fill="#ff0000"/>
<rect x="847.03" y="981.70" width="11.0" height="2.17" fill="#00ff00"/>
<rect x="865.79" y="1166.59" width="11.0" height="259.71" fill="#ffff00"/>
<rect x="865.79" y="1159.81" width="11.0" height="6.78" fill="#0000ff"/>
<rect x="865.79" y="929.64" width="11.0" height="230.16" fill="#00ffff"/>
<rect x="865.79" y="927.20" width="11.0" height="2.44" fill="#ff0000"/>
<rect x="865.79" y="924.76" width="11.0" height="2.44" fill="#00ff00"/>
<rect x="884.55" y="1262.01" width="11.0" height="164.29" fill="#ffff00"/>
<rect x="884.55" y="1206.71" width="11.0" height="55.30" fill="#0000ff"/>
<rect x="884.55" y="988.74" width="11.0" height="217.96" fill="#00ffff"/>
<rect x="884.55" y="955.67" width="11.0" height="33.07" fill="#ff0000"/>
<rect x="884.55" y="921.51" width="11.0" height="34.16" fill="#00ff00"/>
<rect x="903.31" y="1331.41" width="11.0" height="94.88" fill="#ffff00"/>
<rect x="903.31" y="1302.14" width="11.0" height="29.28" fill="#0000ff"/>
<rect x="903.31" y="948.62" width="11.0" height="353.51" fill="#00ffff"/>
<rect x="903.31" y="945.10" width="11.0" height="3.52" fill="#ff0000"/>
<rect x="903.31" y="941.03" width="11.0" height="4.07" fill="#00ff00"/>
<rect x="922.06" y="1351.48" width="11.0" height="74.82" fill="#ffff00"/>
<rect x="922.06" y="1351.21" width="11.0" height="0.27" fill="#0000ff"/>
<rect x="922.06" y="977.63" width="11.0" height="373.58" fill="#00ffff"/>
<rect x="922.06" y="957.30" width="11.0" height="20.33" fill="#ff0000"/>
<rect x="922.06" y="938.59" width="11.0" height="18.71" fill="#00ff00"/>
<rect x="940.82" y="1338.19" width="11.0" height="88.11" fill="#ffff00"/>
<rect x="940.82" y="1335.21" width="11.0" height="2.98" fill="#0000ff"/>
<rect x="940.82" y="1083.36" width="11.0" height="251.85" fill="#00ffff"/>
<rect x="940.82" y="1041.34" width="11.0" height="42.02" fill="#ff0000"/>
<rect x="940.82" y="943.74" width="11.0" height="97.60" fill="#00ff00"/>
<rect x="959.58" y="1332.50" width="11.0" height="93.80" fill="#ffff00"/>
<rect x="959.58" y="1327.62" width="11.0" height="4.88" fill="#0000ff"/>
<rect x="959.58" y="1133.78" width="11.0" height="193.84" fill="#00ffff"/>
<rect x="959.58" y="1105.86" width="11.0" height="27.92" fill="#ff0000"/>
<rect x="959.58" y="1038.36" width="11.0" height="67.50" fill="#00ff00"/>
<rect x="978.34" y="1336.84" width="11.0" height="89.46" fill="#ffff00"/>
<rect x="978.34" y="1333.58" width="11.0" height="3.25" fill="#0000ff"/>
<rect x="978.34" y="1234.36" width="11.0" height="99.22" fill="#00ffff"/>
<rect x="978.34" y="1222.97" width="11.0" height="11.39" fill="#ff0000"/>
<rect x="978.34" y="1144.36" width="11.0" height="78.62" fill="#00ff00"/>
<rect x="997.10" y="1154.93" width="11.0" height="271.37" fill="#ffff00"/>
<rect x="997.10" y="1140.02" width="11.0" height="14.91" fill="#0000ff"/>
<rect x="997.10" y="1036.46" width="11.0" height="103.56" fill="#00ffff"/>
<rect x="997.10" y="1033.20" width="11.0" height="3.25" fill="#ff0000"/>
<rect x="997.10" y="1030.77" width="11.0" height="2.44" fill="#00ff00"/>
<rect x="1015.86" y="1181.77" width="11.0" height="244.53" fill="#ffff00"/>
<rect x="1015.86" y="1158.18" width="11.0" height="23.59" fill="#0000ff"/>
<rect x="1015.86" y="1007.72" width="11.0" height="150.46" fill="#00ffff"/>
<rect x="1015.86" y="995.79" width="11.0" height="11.93" fill="#ff0000"/>
<rect x="1015.86" y="975.19" width="11.0" height="20.60" fill="#00ff00"/>
<rect x="1034.62" y="1266.35" width="11.0" height="159.95" fill="#ffff00"/>
<rect x="1034.62" y="1257.68" width="11.0" height="8.68" fill="#0000ff"/>
<rect x="1034.62" y="1004.47" width="11.0" height="253.21" fill="#00ffff"/>
<rect x="1034.62" y="999.86" width="11.0" height="4.61" fill="#ff0000"/>
<rect x="1034.62" y="989.83" width="11.0" height="10.03" fill="#00ff00"/>
<rect x="1053.37" y="1324.37" width="11.0" height="101.93" fill="#ffff00"/>
<rect x="1053.37" y="1302.95" width="11.0" height="21.42" fill="#0000ff"/>
<rect x="1053.37" y="993.62" width="11.0" height="309.33" fill="#00ffff"/>
<rect x="1053.37" y="990.91" width="11.0" height="2.71" fill="#ff0000"/>
<rect x="1053.37" y="984.68" width="11.0" height="6.24" fill="#00ff00"/>
<rect x="1072.13" y="1390.51" width="11.0" height="35.79" fill="#ffff00"/>
<rect x="1072.13" y="1387.26" width="11.0" height="3.25" fill="#0000ff"/>
<rect x="1072.13" y="980.07" width="11.0" height="407.19" fill="#00ffff"/>
<rect x="1072.13" y="967.87" width="11.0" height="12.20" fill="#ff0000"/>
<rect x="1072.13" y="955.67" width="11.0" height="12.20" fill="#00ff00"/>
<rect x="1090.89" y="1315.15" width="11.0" height="111.15" fill="#ffff00"/>
<rect x="1090.89" y="1314.88" width="11.0" height="0.27" fill="#0000ff"/>
<rect x="1090.89" y="1073.33" width="11.0" height="241.55" fill="#00ffff"/>
<rect x="1090.89" y="1012.87" width="11.0" height="60.46" fill="#ff0000"/>
<rect x="1090.89" y="933.44" width="11.0" height="79.43" fill="#00ff00"/>
<rect x="1109.65" y="1303.22" width="11.0" height="123.08" fill="#ffff00"/>
<rect x="1109.65" y="1299.15" width="11.0" height="4.07" fill="#0000ff"/>
<rect x="1109.65" y="1122.67" width="11.0" height="176.49" fill="#00ffff"/>
<rect x="1109.65" y="1081.73" width="11.0" height="40.94" fill="#ff0000"/>
<rect x="1109.65" y="1001.76" width="11.0" height="79.97" fill="#00ff00"/>
<rect x="1128.41" y="1315.15" width="11.0" height="111.15" fill="#ffff00"/>
<rect x="1128.41" y="1311.35" width="11.0" height="3.80" fill="#0000ff"/>
<rect x="1128.41" y="1200.47" width="11.0" height="110.88" fill="#00ffff"/>
<rect x="1128.41" y="1188.27" width="11.0" height="12.20" fill="#ff0000"/>
<rect x="1128.41" y="1164.15" width="11.0" height="24.13" fill="#00ff00"/>
<rect x="1147.17" y="1359.07" width="11.0" height="67.23" fill="#ffff00"/>
<rect x="1147.17" y="1355.81" width="11.0" height="3.25" fill="#0000ff"/>
<rect x="1147.17" y="1232.19" width="11.0" height="123.62" fill="#00ffff"/>
<rect x="1147.17" y="1223.52" width="11.0" height="8.68" fill="#ff0000"/>
<rect x="1147.17" y="1190.99" width="11.0" height="32.53" fill="#00ff00"/>
<rect x="1165.92" y="1272.86" width="11.0" height="153.44" fill="#ffff00"/>
<rect x="1165.92" y="1269.60" width="11.0" height="3.25" fill="#0000ff"/>
<rect x="1165.92" y="1187.73" width="11.0" height="81.87" fill="#00ffff"/>
<rect x="1165.92" y="1175.80" width="11.0" height="11.93" fill="#ff0000"/>
<rect x="1165.92" y="1143.54" width="11.0" height="32.26" fill="#00ff00"/>
<rect x="1184.68" y="1098.81" width="11.0" height="327.49" fill="#ffff00"/>
<rect x="1184.68" y="1083.63" width="11.0" height="15.18" fill="#0000ff"/>
<rect x="1184.68" y="1051.10" width="11.0" height="32.53" fill="#00ffff"/>
<rect x="1184.68" y="1039.71" width="11.0" height="11.39" fill="#ff0000"/>
<rect x="1184.68" y="1026.16" width="11.0" height="13.55" fill="#00ff00"/>
<rect x="1203.44" y="1117.79" width="11.0" height="308.51" fill="#ffff00"/>
<rect x="1203.44" y="1098.00" width="11.0" height="19.79" fill="#0000ff"/>
<rect x="1203.44" y="1041.88" width="11.0" height="56.12" fill="#00ffff"/>
<rect x="1203.44" y="1039.17" width="11.0" height="2.71" fill="#ff0000"/>
<rect x="1203.44" y="1026.16" width="11.0" height="13.01" fill="#00ff00"/>
<rect x="1222.20" y="1153.03" width="11.0" height="273.27" fill="#ffff00"/>
<rect x="1222.20" y="1140.02" width="11.0" height="13.01" fill="#0000ff"/>
<rect x="1222.20" y="1033.75" width="11.0" height="106.27" fill="#00ffff"/>
<rect x="1222.20" y="1030.49" width="11.0" height="3.25" fill="#ff0000"/>
<rect x="1222.20" y="1027.78" width="11.0" height="2.71" fill="#00ff00"/>
</g>
<g stroke="#000" stroke-width="1.8" fill="none">
<path d="M102.2 883.15V1426.3"/>
<path d="M94.10000000000001 1426.3H1246.5"/>
<path d="M94.10000000000001 1317.86H102.2"/>
<path d="M94.10000000000001 1209.42H102.2"/>
<path d="M94.10000000000001 1100.98H102.2"/>
<path d="M94.10000000000001 992.54H102.2"/>
<path d="M94.10000000000001 884.10H102.2"/>
<path d="M120.55 1426.3v8.0"/>
<path d="M139.31 1426.3v8.0"/>
<path d="M158.07 1426.3v8.0"/>
<path d="M176.83 1426.3v8.0"/>
<path d="M195.58 1426.3v8.0"/>
<path d="M214.34 1426.3v8.0"/>
<path d="M233.10 1426.3v8.0"/>
<path d="M251.86 1426.3v8.0"/>
<path d="M270.62 1426.3v8.0"/>
<path d="M289.38 1426.3v8.0"/>
<path d="M308.13 1426.3v8.0"/>
<path d="M326.89 1426.3v8.0"/>
<path d="M345.65 1426.3v8.0"/>
<path d="M364.41 1426.3v8.0"/>
<path d="M383.17 1426.3v8.0"/>
<path d="M401.93 1426.3v8.0"/>
<path d="M420.69 1426.3v8.0"/>
<path d="M439.44 1426.3v8.0"/>
<path d="M458.20 1426.3v8.0"/>
<path d="M476.96 1426.3v8.0"/>
<path d="M495.72 1426.3v8.0"/>
<path d="M514.48 1426.3v8.0"/>
<path d="M533.24 1426.3v8.0"/>
<path d="M551.99 1426.3v8.0"/>
<path d="M570.75 1426.3v8.0"/>
<path d="M589.51 1426.3v8.0"/>
<path d="M608.27 1426.3v8.0"/>
<path d="M627.03 1426.3v8.0"/>
<path d="M645.79 1426.3v8.0"/>
<path d="M664.55 1426.3v8.0"/>
<path d="M683.30 1426.3v8.0"/>
<path d="M702.06 1426.3v8.0"/>
<path d="M720.82 1426.3v8.0"/>
<path d="M739.58 1426.3v8.0"/>
<path d="M758.34 1426.3v8.0"/>
<path d="M777.10 1426.3v8.0"/>
<path d="M795.86 1426.3v8.0"/>
<path d="M814.61 1426.3v8.0"/>
<path d="M833.37 1426.3v8.0"/>
<path d="M852.13 1426.3v8.0"/>
<path d="M870.89 1426.3v8.0"/>
<path d="M889.65 1426.3v8.0"/>
<path d="M908.41 1426.3v8.0"/>
<path d="M927.16 1426.3v8.0"/>
<path d="M945.92 1426.3v8.0"/>
<path d="M964.68 1426.3v8.0"/>
<path d="M983.44 1426.3v8.0"/>
<path d="M1002.20 1426.3v8.0"/>
<path d="M1020.96 1426.3v8.0"/>
<path d="M1039.72 1426.3v8.0"/>
<path d="M1058.47 1426.3v8.0"/>
<path d="M1077.23 1426.3v8.0"/>
<path d="M1095.99 1426.3v8.0"/>
<path d="M1114.75 1426.3v8.0"/>
<path d="M1133.51 1426.3v8.0"/>
<path d="M1152.27 1426.3v8.0"/>
<path d="M1171.02 1426.3v8.0"/>
<path d="M1189.78 1426.3v8.0"/>
<path d="M1208.54 1426.3v8.0"/>
<path d="M1227.30 1426.3v8.0"/>
</g>
<g font-size="25.2" text-anchor="end">
<text x="81.3" y="1434.45">0</text>
<text x="81.3" y="1326.01">20</text>
<text x="81.3" y="1217.57">40</text>
<text x="81.3" y="1109.13">60</text>
<text x="81.3" y="1000.69">80</text>
<text x="81.3" y="892.25">100</text>
</g>
<text font-size="29.4" text-anchor="middle" transform="translate(27.9 1155.2) rotate(-90)">Fig deveopment stages (%)</text>
<g font-size="21.2" text-anchor="end">
<text transform="translate(131.15 1447.10) rotate(-75)">Aug-29</text>
<text transform="translate(149.91 1447.10) rotate(-75)">Sep-6</text>
<text transform="translate(168.67 1447.10) rotate(-75)">Sep-14</text>
<text transform="translate(187.43 1447.10) rotate(-75)">Sep-21</text>
<text transform="translate(206.18 1447.10) rotate(-75)">Sep-28</text>
<text transform="translate(224.94 1447.10) rotate(-75)">Oct-5</text>
<text transform="translate(243.70 1447.10) rotate(-75)">Oct-12</text>
<text transform="translate(262.46 1447.10) rotate(-75)">Oct-19</text>
<text transform="translate(281.22 1447.10) rotate(-75)">Oct-26</text>
<text transform="translate(299.98 1447.10) rotate(-75)">Nov-3</text>
<text transform="translate(318.73 1447.10) rotate(-75)">Nov-10</text>
<text transform="translate(337.49 1447.10) rotate(-75)">Nov-17</text>
<text transform="translate(356.25 1447.10) rotate(-75)">Nov-24</text>
<text transform="translate(375.01 1447.10) rotate(-75)">Dec-1</text>
<text transform="translate(393.77 1447.10) rotate(-75)">Dec-8</text>
<text transform="translate(412.53 1447.10) rotate(-75)">Dec-15</text>
<text transform="translate(431.29 1447.10) rotate(-75)">Dec-22</text>
<text transform="translate(450.04 1447.10) rotate(-75)">Dec-29</text>
<text transform="translate(468.80 1447.10) rotate(-75)">Jan-5</text>
<text transform="translate(487.56 1447.10) rotate(-75)">Jan-12</text>
<text transform="translate(506.32 1447.10) rotate(-75)">Jan-19</text>
<text transform="translate(525.08 1447.10) rotate(-75)">Jan-26</text>
<text transform="translate(543.84 1447.10) rotate(-75)">Feb-3</text>
<text transform="translate(562.59 1447.10) rotate(-75)">Feb-10</text>
<text transform="translate(581.35 1447.10) rotate(-75)">Feb-17</text>
<text transform="translate(600.11 1447.10) rotate(-75)">Feb-24</text>
<text transform="translate(618.87 1447.10) rotate(-75)">Mar-2</text>
<text transform="translate(637.63 1447.10) rotate(-75)">Mar-9</text>
<text transform="translate(656.39 1447.10) rotate(-75)">Mar-16</text>
<text transform="translate(675.15 1447.10) rotate(-75)">Mar-23</text>
<text transform="translate(693.90 1447.10) rotate(-75)">Apr-1</text>
<text transform="translate(712.66 1447.10) rotate(-75)">Apr-8</text>
<text transform="translate(731.42 1447.10) rotate(-75)">Apr-16</text>
<text transform="translate(750.18 1447.10) rotate(-75)">Apr-24</text>
<text transform="translate(768.94 1447.10) rotate(-75)">May-3</text>
<text transform="translate(787.70 1447.10) rotate(-75)">May-11</text>
<text transform="translate(806.46 1447.10) rotate(-75)">May-18</text>
<text transform="translate(825.21 1447.10) rotate(-75)">May-25</text>
<text transform="translate(843.97 1447.10) rotate(-75)">Jun-4</text>
<text transform="translate(862.73 1447.10) rotate(-75)">Jun-13</text>
<text transform="translate(881.49 1447.10) rotate(-75)">Jun-21</text>
<text transform="translate(900.25 1447.10) rotate(-75)">Jun-28</text>
<text transform="translate(919.01 1447.10) rotate(-75)">Jul-5</text>
<text transform="translate(937.76 1447.10) rotate(-75)">Jul-12</text>
<text transform="translate(956.52 1447.10) rotate(-75)">Jul-19</text>
<text transform="translate(975.28 1447.10) rotate(-75)">Jul-26</text>
<text transform="translate(994.04 1447.10) rotate(-75)">Aug-2</text>
<text transform="translate(1012.80 1447.10) rotate(-75)">Aug-10</text>
<text transform="translate(1031.56 1447.10) rotate(-75)">Aug-17</text>
<text transform="translate(1050.32 1447.10) rotate(-75)">Aug-24</text>
<text transform="translate(1069.07 1447.10) rotate(-75)">Aug-31</text>
<text transform="translate(1087.83 1447.10) rotate(-75)">Sep-7</text>
<text transform="translate(1106.59 1447.10) rotate(-75)">Sep-15</text>
<text transform="translate(1125.35 1447.10) rotate(-75)">Sep-22</text>
<text transform="translate(1144.11 1447.10) rotate(-75)">Sep-29</text>
<text transform="translate(1162.87 1447.10) rotate(-75)">Oct-6</text>
<text transform="translate(1181.62 1447.10) rotate(-75)">Oct-13</text>
<text transform="translate(1200.38 1447.10) rotate(-75)">Oct-20</text>
<text transform="translate(1219.14 1447.10) rotate(-75)">Oct-27</text>
<text transform="translate(1237.90 1447.10) rotate(-75)">Nov-2</text>
</g>
<g font-size="29.5">
<text x="331.6" y="1570.8">2013</text><text x="934.2" y="1570.8">2014</text>
<text x="653.4000000000001" y="1616.4" font-size="30.2">(b)</text>
</g>
<g font-size="25">
<rect x="1079.8" y="767.00" width="57.8" height="14.6" fill="#ffff00" stroke="#000" stroke-width="1.3"/>
<text x="1151.6" y="782.80">A phase</text>
<rect x="1079.8" y="799.15" width="57.8" height="14.6" fill="#0000ff" stroke="#000" stroke-width="1.3"/>
<text x="1151.6" y="814.95">B phase</text>
<rect x="1079.8" y="831.30" width="57.8" height="14.6" fill="#00ffff" stroke="#000" stroke-width="1.3"/>
<text x="1151.6" y="847.10">C phase</text>
<rect x="1079.8" y="863.45" width="57.8" height="14.6" fill="#ff0000" stroke="#000" stroke-width="1.3"/>
<text x="1151.6" y="879.25">D phase</text>
<rect x="1079.8" y="895.60" width="57.8" height="14.6" fill="#00ff00" stroke="#000" stroke-width="1.3"/>
<text x="1151.6" y="911.40">E phase</text>
</g>
</svg>
</body></html>
